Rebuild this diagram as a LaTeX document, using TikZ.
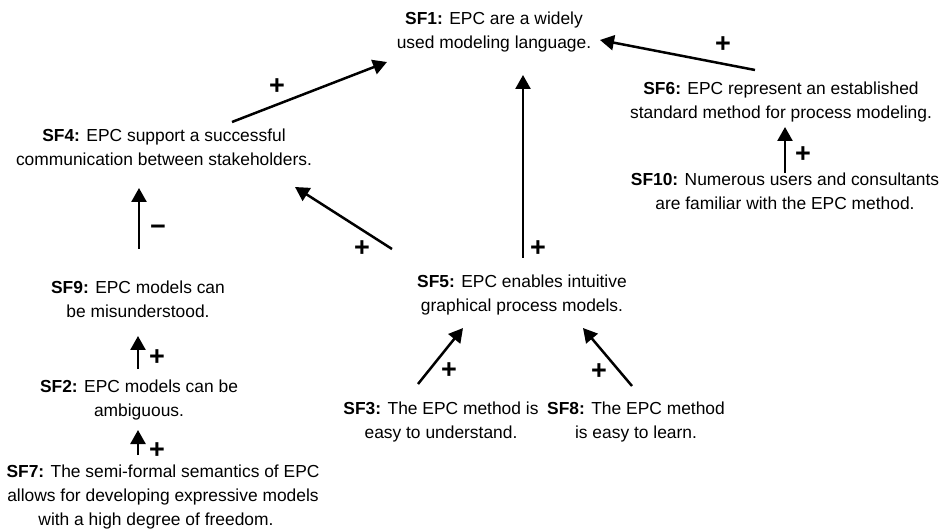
\documentclass[tikz,border=0pt]{standalone}
\usepackage{fontspec}
\setmainfont{Liberation Sans}
\usetikzlibrary{arrows.meta}
\begin{document}
\begin{tikzpicture}[x=1pt,y=-1pt,
  sf/.style={align=center, inner sep=0pt, font=\fontsize{17.4}{24}\selectfont},
  arr/.style={line width=2.5pt, -{Triangle[length=14pt,width=15pt]}},
  sgn/.style={inner sep=0pt, font=\fontsize{27}{27}\selectfont\bfseries}]
\useasboundingbox (0,0) rectangle (940,529);

\node[sf] (sf1) at (494,32) {\strut\textbf{SF1:} EPC are a widely\\used modeling language.\strut};
\node[sf] (sf6) at (781,102) {\strut\textbf{SF6:} EPC represent an established\\standard method for process modeling.\strut};
\node[sf] (sf10) at (785,193) {\strut\textbf{SF10:} Numerous users and consultants\\are familiar with the EPC method.\strut};
\node[sf] (sf4) at (164,149) {\strut\textbf{SF4:} EPC support a successful\\communication between stakeholders.\strut};
\node[sf] (sf9) at (138,301) {\strut\textbf{SF9:} EPC models can\\be misunderstood.\strut};
\node[sf] (sf2) at (139,400) {\strut\textbf{SF2:} EPC models can be\\ambiguous.\strut};
\node[sf] (sf7) at (163,497) {\strut\textbf{SF7:} The semi-formal semantics of EPC\\allows for developing expressive models\\with a high degree of freedom.\strut\hspace*{14pt}};
\node[sf] (sf5) at (522,295) {\strut\textbf{SF5:} EPC enables intuitive\\graphical process models.\strut};
\node[sf] (sf3) at (441,422) {\strut\textbf{SF3:} The EPC method is\\easy to understand.\strut};
\node[sf] (sf8) at (636,422) {\strut\textbf{SF8:} The EPC method\\is easy to learn.\strut};

\draw[arr] ([shift={(68,-27)}]sf4.center) -- ([shift={(-107,30)}]sf1.center);
\draw[arr] ([shift={(-26,-32)}]sf6.center) -- ([shift={(106,8)}]sf1.center);
\draw[arr] ([shift={(1,-37)}]sf5.center) -- ([shift={(29,43)}]sf1.center);
\draw[arr] ([shift={(-130,-46)}]sf5.center) -- ([shift={(131,38)}]sf4.center);
\draw[arr] ([shift={(0,-20)}]sf10.center) -- ([shift={(4,25)}]sf6.center);
\draw[arr] ([shift={(1,-52)}]sf9.center) -- ([shift={(-25,39)}]sf4.center);
\draw[arr] ([shift={(-1,-31)}]sf2.center) -- ([shift={(0,35)}]sf9.center);
\draw[arr] ([shift={(-25,-42)}]sf7.center) -- ([shift={(-1,30)}]sf2.center);
\draw[arr] ([shift={(-23,-38)}]sf3.center) -- ([shift={(-59,33)}]sf5.center);
\draw[arr] ([shift={(-4,-36)}]sf8.center) -- ([shift={(61,33)}]sf5.center);

\node[sgn] (p1) at (277,87) {+};
\node[sgn] (p2) at (723,45) {+};
\node[sgn] (p3) at (538,249) {+};
\node[sgn] (p4) at (362,249) {+};
\node[sgn] (p5) at (803,155) {+};
\node[sgn] (m6) at (158,230) {−};
\node[sgn] (p7) at (157,358) {+};
\node[sgn] (p8) at (157,451) {+};
\node[sgn] (p9) at (449,371) {+};
\node[sgn] (p10) at (599,372) {+};
\end{tikzpicture}
\end{document}
